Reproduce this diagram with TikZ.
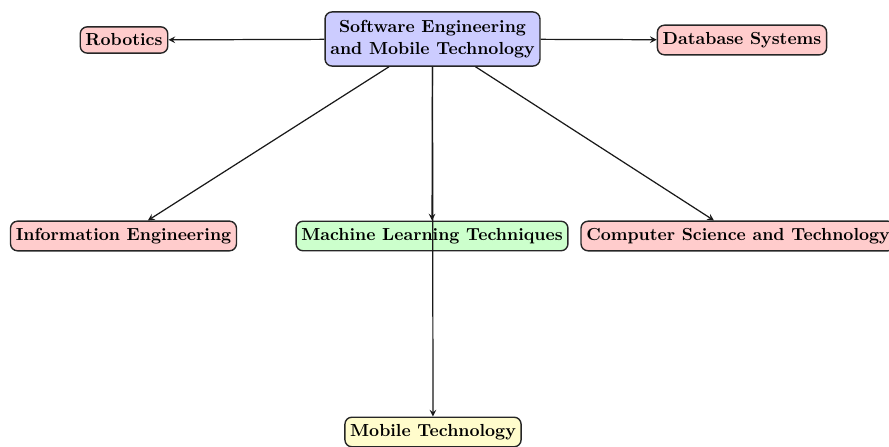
\documentclass[tikz,border=0pt]{standalone}
\usetikzlibrary{arrows}
\begin{document}
\begin{tikzpicture}[x=0.573pt,y=-0.573pt,
  box/.style={draw=black!85, thick, rounded corners=4pt, font=\bfseries, inner xsep=3pt, inner ysep=4pt, align=center},
  rootbox/.style={box, fill=blue!20, inner ysep=4.5pt},
  redbox/.style={box, fill=red!20},
  greenbox/.style={box, fill=green!20},
  yellowbox/.style={box, fill=yellow!20},
  link/.style={draw=black!90, line width=0.7pt, -stealth}]
\useasboundingbox (0,0) rectangle (889,447);
\node[rootbox] (root) at (432.5,39) {Software Engineering\\[1pt]and Mobile Technology};
\node[redbox] (rob) at (124,40) {Robotics};
\node[redbox] (db) at (742,40) {Database Systems};
\node[redbox] (info) at (123.5,236) {Information Engineering};
\node[greenbox] (ml) at (432,236) {Machine Learning Techniques};
\node[redbox] (cs) at (738,236) {Computer Science and Technology};
\node[yellowbox] (mob) at (433,432) {Mobile Technology};
\draw[link] (root) -- (rob);
\draw[link] (root) -- (db);
\draw[link] (root) -- (info);
\draw[link] (root) -- (ml);
\draw[link] (root) -- (cs);
\draw[link] (root) -- (mob);
\end{tikzpicture}
\end{document}
